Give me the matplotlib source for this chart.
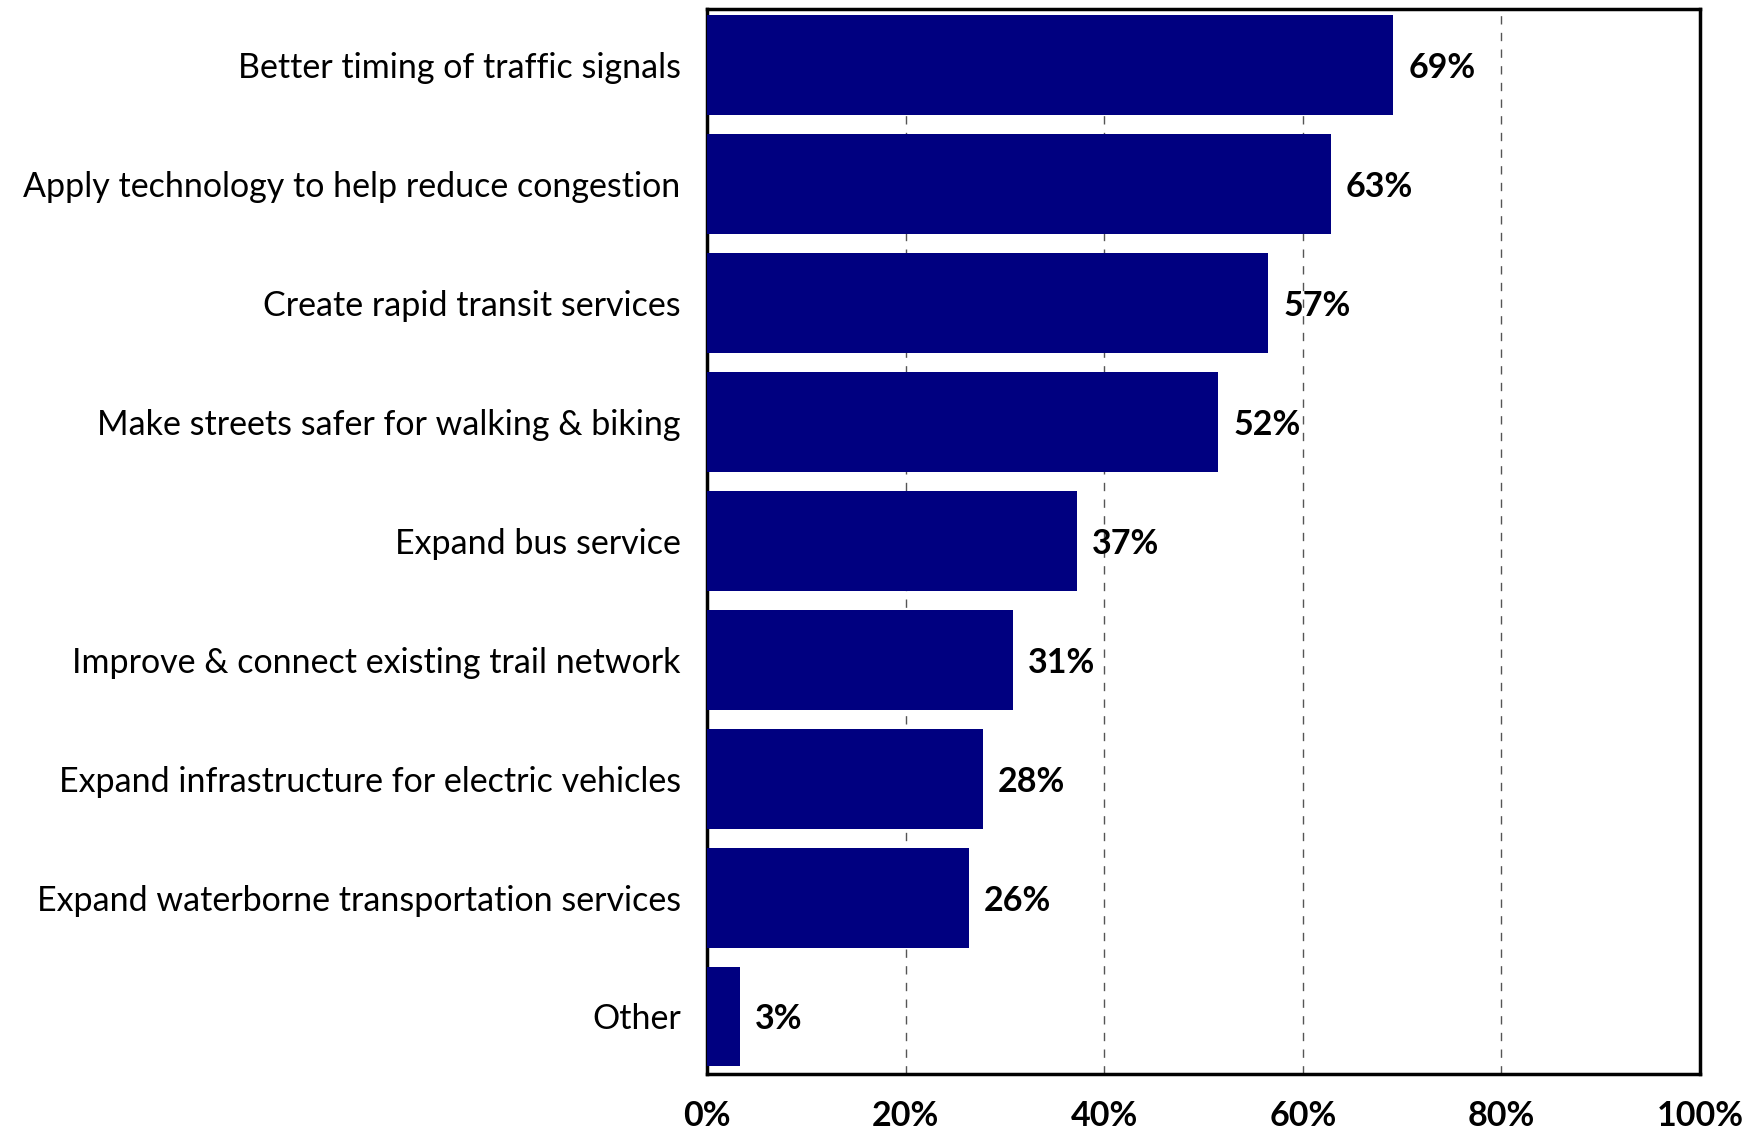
import matplotlib
matplotlib.use("Agg")
import matplotlib.pyplot as plt
import numpy as np

categories = [
    "Better timing of traffic signals",
    "Apply technology to help reduce congestion",
    "Create rapid transit services",
    "Make streets safer for walking & biking",
    "Expand bus service",
    "Improve & connect existing trail network",
    "Expand infrastructure for electric vehicles",
    "Expand waterborne transportation services",
    "Other",
]
values = [69.1, 62.8, 56.5, 51.5, 37.3, 30.8, 27.8, 26.4, 3.3]
value_labels = ["69%", "63%", "57%", "52%", "37%", "31%", "28%", "26%", "3%"]
xticks = [0, 20, 40, 60, 80, 100]
xtick_labels = ["0%", "20%", "40%", "60%", "80%", "100%"]

plt.rcParams['font.family'] = ['Lato', 'DejaVu Sans']

fig = plt.figure(figsize=(17.59, 11.32), dpi=100)
ax = fig.add_axes([0.402, 0.0516, 0.5645, 0.9404])

y = np.arange(len(categories))
ax.barh(y, values, height=0.84, color="#000080", zorder=3)
for yi, v, lab in zip(y, values, value_labels):
    ax.text(v + 1.5, yi, lab, va="center_baseline", ha="left", fontsize=24.5,
            fontweight="bold", color="black", zorder=4)

ax.set_xlim(0, 100)
ax.set_ylim(8.48, -0.47)
ax.set_yticks(y)
ax.set_yticklabels(categories, fontsize=24.5, va="center_baseline")
ax.set_xticks(xticks)
ax.set_xticklabels(xtick_labels, fontsize=24.5, fontweight="bold")
ax.tick_params(axis="both", length=0)
ax.tick_params(axis="y", pad=19)
ax.tick_params(axis="x", pad=19)
ax.xaxis.grid(True, linestyle=(0, (6, 6)), color="#555555", linewidth=1.0, zorder=0)
ax.yaxis.grid(False)
for s in ax.spines.values():
    s.set_linewidth(2.5)
    s.set_color("black")

fig.savefig("out.png", dpi=100)
